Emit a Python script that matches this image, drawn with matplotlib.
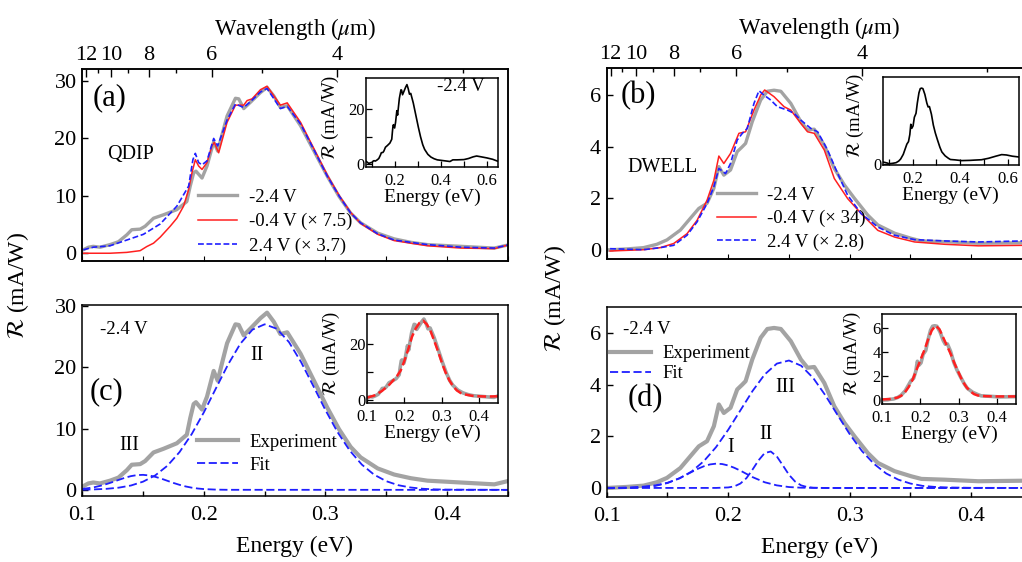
import matplotlib
matplotlib.use('Agg')
import matplotlib.pyplot as plt
from matplotlib.ticker import FixedLocator, NullLocator

plt.rcParams['font.family'] = 'serif'
plt.rcParams['font.serif'] = ['Liberation Serif', 'DejaVu Serif']
plt.rcParams['mathtext.fontset'] = 'stix'
plt.rcParams['xtick.direction'] = 'in'
plt.rcParams['ytick.direction'] = 'in'
plt.rcParams['axes.linewidth'] = 1.1

# ---------------- data ----------------
# QDIP, -2.4 V (full range, used in (a), (c) and insets)
qdip_E = [0.074, 0.080, 0.086, 0.092, 0.1008, 0.105, 0.109, 0.1146, 0.1228, 0.1297, 0.1366, 0.1407,
          0.1476, 0.1517, 0.1586, 0.1668, 0.1778, 0.186, 0.1888, 0.1916, 0.1935, 0.1985, 0.2026, 0.2081,
          0.2114, 0.215, 0.2191, 0.226, 0.2287, 0.2328, 0.2383, 0.2466, 0.252, 0.2576, 0.263, 0.2686,
          0.2796, 0.2906, 0.3016, 0.3112, 0.3208, 0.329, 0.343, 0.3566, 0.3703, 0.384, 0.4116, 0.439,
          0.4515, 0.47, 0.50, 0.52, 0.54, 0.555, 0.575, 0.60, 0.625, 0.65]
qdip_m24 = [1.0, 0.6, 0.2, 0.4, 0.6, 1.05, 1.2, 1.05, 1.5, 2.0, 3.2, 4.1,
            4.2, 4.7, 6.1, 6.7, 7.6, 9.0, 11.7, 14.0, 14.3, 13.1, 15.2, 19.4,
            17.8, 20.7, 23.9, 27.0, 26.9, 25.2, 26.3, 28.0, 28.9, 27.4, 25.4, 25.7,
            22.2, 17.8, 13.4, 9.9, 7.0, 5.3, 3.5, 2.5, 1.9, 1.5, 1.2, 0.9,
            1.5, 1.5, 1.6, 2.0, 2.6, 2.9, 2.6, 2.2, 1.7, 0.9]

# QDIP, -0.4 V (x7.5)
qdip_E_m04 = [0.1008, 0.1228, 0.1366, 0.1476, 0.1531, 0.1586, 0.1641, 0.1723, 0.1778, 0.1833, 0.1875,
              0.1902, 0.193, 0.1957, 0.1985, 0.2026, 0.2067, 0.2086, 0.2122, 0.2191, 0.226, 0.2328,
              0.2356, 0.2397, 0.2466, 0.252, 0.263, 0.2686, 0.2796, 0.2906, 0.3016, 0.3112, 0.3208,
              0.329, 0.343, 0.3566, 0.384, 0.4116, 0.439, 0.4515]
qdip_m04 = [0.0, 0.0, 0.15, 0.45, 1.17, 1.75, 2.8, 4.7, 6.1, 8.2, 11.1,
            14.0, 16.3, 15.2, 14.6, 15.8, 18.7, 19.3, 17.5, 22.8, 25.8, 25.8,
            26.6, 26.9, 28.5, 29.1, 25.8, 26.2, 22.8, 18.2, 13.6, 10.1, 7.1,
            5.2, 3.3, 2.2, 1.3, 0.9, 0.8, 1.5]

# QDIP, +2.4 V (x3.7)
qdip_E_p24 = [0.1008, 0.109, 0.1228, 0.1366, 0.1503, 0.1641, 0.1778, 0.1875, 0.191, 0.193, 0.1957,
              0.1985, 0.2026, 0.2081, 0.2114, 0.2191, 0.226, 0.2328, 0.2383, 0.2466, 0.252, 0.263,
              0.2686, 0.2796, 0.2906, 0.3016, 0.3112, 0.3208, 0.329, 0.343, 0.3566, 0.384, 0.4116,
              0.439, 0.4515]
qdip_p24 = [0.6, 1.05, 1.3, 2.3, 3.3, 5.1, 8.2, 11.7, 16.3, 17.4, 15.8,
            15.4, 16.1, 20.0, 18.7, 23.2, 26.0, 25.4, 26.4, 28.1, 28.7, 25.2,
            25.6, 22.5, 18.0, 13.4, 10.0, 7.0, 5.3, 3.4, 2.3, 1.5, 1.05,
            0.9, 1.5]

# DWELL, -2.4 V (full range)
dwell_E = [0.074, 0.085, 0.095, 0.1, 0.1165, 0.1303, 0.1413, 0.1496, 0.1606, 0.1689, 0.1758, 0.1826,
           0.1882, 0.1923, 0.1964, 0.2019, 0.2074, 0.2116, 0.2143, 0.2198, 0.2267, 0.2322, 0.2377,
           0.2433, 0.2515, 0.2598, 0.2653, 0.2708, 0.2791, 0.2873, 0.2956, 0.3039, 0.3149, 0.3231,
           0.3369, 0.3507, 0.359, 0.3782, 0.4058, 0.443, 0.46, 0.49, 0.52, 0.55, 0.575, 0.595, 0.62, 0.65]
dwell_m24 = [0.15, 0.1, 0.05, 0.0, 0.04, 0.09, 0.22, 0.39, 0.77, 1.23, 1.61, 1.81,
             2.39, 3.23, 2.90, 3.10, 3.81, 4.0, 4.13, 4.97, 5.81, 6.15, 6.19,
             6.15, 5.68, 4.97, 4.65, 4.68, 4.06, 3.16, 2.52, 2.0, 1.35, 0.97,
             0.65, 0.45, 0.35, 0.32, 0.26, 0.28, 0.3, 0.33, 0.45, 0.62, 0.75, 0.72, 0.62, 0.55]

# DWELL, -0.4 V (x34)
dwell_E_m04 = [0.1028, 0.1303, 0.1441, 0.1551, 0.1661, 0.1744, 0.1826, 0.1882, 0.1923, 0.1964, 0.2019,
               0.2088, 0.2143, 0.2212, 0.2267, 0.23, 0.2377, 0.246, 0.2515, 0.2598, 0.2653, 0.2708,
               0.2791, 0.2873, 0.2983, 0.3094, 0.3231, 0.3369, 0.3534, 0.3782, 0.4058, 0.443, 0.452]
dwell_m04 = [-0.04, 0.01, 0.09, 0.25, 0.63, 1.15, 1.93, 2.70, 3.64, 3.35, 3.74,
             4.52, 4.58, 5.42, 6.0, 6.2, 5.94, 5.55, 5.42, 4.90, 4.58, 4.52,
             3.87, 2.77, 1.99, 1.41, 0.76, 0.50, 0.31, 0.22, 0.16, 0.18, 0.18]

# DWELL, +2.4 V (x2.8)
dwell_E_p24 = [0.1028, 0.1303, 0.1441, 0.1551, 0.1661, 0.1744, 0.1826, 0.1882, 0.1923, 0.1978, 0.2019,
               0.2074, 0.2116, 0.2157, 0.2212, 0.2253, 0.2295, 0.235, 0.2405, 0.2488, 0.2543, 0.2598,
               0.268, 0.2736, 0.2818, 0.2901, 0.2983, 0.3094, 0.3231, 0.3369, 0.3534, 0.3782, 0.4058,
               0.443, 0.452]
dwell_p24 = [0.05, 0.01, 0.09, 0.18, 0.57, 1.09, 1.80, 2.45, 3.16, 2.96, 3.35,
             4.26, 4.52, 4.71, 5.68, 6.17, 6.0, 5.81, 5.55, 5.42, 5.29, 5.03,
             4.71, 4.58, 3.87, 2.96, 2.12, 1.41, 0.89, 0.57, 0.40, 0.35, 0.31,
             0.35, 0.35]

# Fits, panel (c)
fitc_E_II = [0.10, 0.11, 0.12, 0.13, 0.14, 0.15, 0.16, 0.17, 0.18, 0.19, 0.20, 0.21, 0.22, 0.23, 0.24,
             0.25, 0.26, 0.27, 0.28, 0.29, 0.30, 0.31, 0.32, 0.33, 0.34, 0.35, 0.36, 0.37, 0.38, 0.39,
             0.40, 0.45]
fitc_II = [0.03, 0.08, 0.17, 0.36, 0.71, 1.34, 2.36, 3.93, 6.16, 9.09, 12.64, 16.58, 20.47, 23.83, 26.13,
           27.0, 26.28, 24.11, 20.84, 16.97, 13.03, 9.42, 6.42, 4.12, 2.49, 1.42, 0.76, 0.39, 0.18, 0.08,
           0.04, 0.0]
fitc_E_III = [0.10, 0.105, 0.11, 0.115, 0.12, 0.125, 0.13, 0.135, 0.14, 0.145, 0.15, 0.155, 0.16, 0.165,
              0.17, 0.175, 0.18, 0.185, 0.19, 0.195, 0.20, 0.21, 0.22, 0.45]
fitc_III = [0.16, 0.28, 0.44, 0.67, 0.95, 1.28, 1.63, 1.97, 2.24, 2.41, 2.45, 2.35, 2.13, 1.83,
            1.48, 1.13, 0.82, 0.56, 0.36, 0.22, 0.13, 0.04, 0.01, 0.0]
fitc_E_tot = [0.10, 0.12, 0.14, 0.16, 0.18, 0.19, 0.20, 0.21, 0.22, 0.23, 0.24, 0.25, 0.26, 0.27, 0.28,
              0.29, 0.30, 0.31, 0.32, 0.33, 0.34, 0.35, 0.36, 0.38, 0.40, 0.42, 0.45]
fitc_tot = [0.8, 1.6, 3.2, 5.5, 8.5, 10.5, 14.0, 18.0, 22.5, 25.5, 27.5, 28.3, 27.0, 24.5, 21.0,
            17.3, 13.3, 9.8, 7.0, 4.9, 3.4, 2.5, 2.0, 1.5, 1.3, 1.2, 1.3]

# Fits, panel (d)
fitd_E_I = [0.10, 0.11, 0.12, 0.13, 0.14, 0.15, 0.16, 0.17, 0.175, 0.18, 0.185, 0.19, 0.195, 0.20,
            0.205, 0.21, 0.22, 0.23, 0.24, 0.25, 0.26, 0.27, 0.28, 0.45]
fitd_I = [0.0, 0.002, 0.008, 0.03, 0.08, 0.19, 0.38, 0.62, 0.74, 0.84, 0.91, 0.94, 0.925, 0.87,
          0.78, 0.67, 0.42, 0.22, 0.10, 0.035, 0.01, 0.003, 0.0, 0.0]
fitd_E_II = [0.10, 0.19, 0.20, 0.205, 0.21, 0.215, 0.22, 0.225, 0.23, 0.235, 0.24, 0.245, 0.25, 0.255,
             0.26, 0.265, 0.27, 0.28, 0.45]
fitd_II = [0.0, 0.001, 0.02, 0.06, 0.17, 0.38, 0.71, 1.07, 1.35, 1.41, 1.22, 0.87, 0.51, 0.25,
           0.10, 0.034, 0.01, 0.0, 0.0]
fitd_E_III = [0.10, 0.11, 0.12, 0.13, 0.14, 0.15, 0.16, 0.17, 0.18, 0.19, 0.20, 0.21, 0.22, 0.23, 0.24,
              0.25, 0.26, 0.27, 0.28, 0.29, 0.30, 0.31, 0.32, 0.33, 0.34, 0.35, 0.36, 0.37, 0.38, 0.40,
              0.45]
fitd_III = [0.003, 0.009, 0.02, 0.05, 0.10, 0.20, 0.37, 0.64, 1.04, 1.58, 2.25, 3.00, 3.75, 4.39, 4.81,
            4.93, 4.73, 4.25, 3.58, 2.82, 2.08, 1.43, 0.93, 0.56, 0.32, 0.17, 0.08, 0.04, 0.02, 0.005,
            0.0]
fitd_E_tot = [0.10, 0.12, 0.14, 0.15, 0.16, 0.17, 0.18, 0.19, 0.20, 0.21, 0.22, 0.23, 0.24, 0.25, 0.26,
              0.27, 0.28, 0.29, 0.30, 0.31, 0.32, 0.33, 0.34, 0.35, 0.37, 0.40, 0.45]
fitd_tot = [0.05, 0.08, 0.2, 0.35, 0.65, 1.1, 1.7, 2.5, 3.3, 4.1, 5.0, 5.8, 6.2, 5.9, 5.2,
            4.5, 3.8, 3.0, 2.3, 1.6, 1.1, 0.75, 0.5, 0.38, 0.32, 0.3, 0.3]

# wavelength axis (um)
wl_major = [12, 10, 8, 6, 4]
wl_minor = [11, 9, 7, 5, 3]
HC = 1.23984  # eV*um

GRAY = '#a3a3a3'
RED = '#ff2020'
BLUE = '#1f1fff'

W, H = 1022, 562
fig = plt.figure(figsize=(W / 100, H / 100), dpi=100)


def px_axes(l, t, r, b):
    return fig.add_axes([l / W, 1 - b / H, (r - l) / W, (b - t) / H])


def style_main(ax, bottom_labels):
    ax.tick_params(axis='y', which='major', length=4.5, width=1, labelsize=16, pad=4)
    ax.tick_params(axis='y', right=False)
    if bottom_labels:
        ax.tick_params(axis='x', which='both', length=3.5, width=1, labelsize=16, pad=7, top=False)
    else:
        ax.tick_params(axis='x', which='both', bottom=False, labelbottom=False, top=False)


def add_top_axis(ax):
    at = ax.twiny()
    at.set_xlim(ax.get_xlim())
    at.xaxis.set_major_locator(FixedLocator([HC / w for w in wl_major]))
    at.xaxis.set_minor_locator(FixedLocator([HC / w for w in wl_minor]))
    at.set_xticklabels([str(w) for w in wl_major])
    at.tick_params(axis='x', which='major', length=5.5, width=1, labelsize=16, pad=3)
    at.tick_params(axis='x', which='minor', length=3.2, width=1)
    at.set_xlabel(r'Wavelength ($\mu$m)', fontsize=16.5, labelpad=8)
    return at


def style_inset(ax):
    ax.set_facecolor('white')
    ax.tick_params(axis='both', which='both', labelsize=12, width=0.9)
    ax.tick_params(axis='both', which='major', length=4)
    ax.tick_params(axis='both', which='minor', length=4)
    ax.tick_params(axis='y', pad=1)
    ax.tick_params(axis='x', pad=4)
    ax.set_xlabel('Energy (eV)', fontsize=14, labelpad=0)
    ax.set_ylabel(r'$\mathcal{R}$ (mA/W)', fontsize=13.5, labelpad=0)
    ax.yaxis.set_label_coords(-0.19, 0.56)


# ---------------- panel (a) ----------------
ax_a = px_axes(82.3, 69, 507.7, 260.7)
ax_a.plot(qdip_E, qdip_m24, color=GRAY, lw=2.4, label='-2.4 V')
ax_a.plot(qdip_E_m04, qdip_m04, color=RED, lw=1.1, label='-0.4 V (× 7.5)')
ax_a.plot(qdip_E_p24, qdip_p24, color=BLUE, lw=1.2, dashes=(3.5, 1.6), label='2.4 V (× 3.7)')
ax_a.set_xlim(0.1, 0.45)
ax_a.set_ylim(-1.3, 32.1)
ax_a.set_yticks([0, 10, 20, 30])
style_main(ax_a, False)
add_top_axis(ax_a)
ax_a.text(0.065, 0.85, '(a)', transform=ax_a.transAxes, fontsize=22, ha='center', va='center')
ax_a.text(0.058, 0.555, 'QDIP', transform=ax_a.transAxes, fontsize=14.5, ha='left', va='center')
ax_a.legend(loc='upper left', bbox_to_anchor=(0.272, 0.375), frameon=False, fontsize=13.5,
            handlelength=2.1, handletextpad=0.6, labelspacing=0.38, borderpad=0, borderaxespad=0)

# ---------------- panel (b) ----------------
ax_b = px_axes(606.7, 68.3, 1032, 259)
ax_b.plot(dwell_E, dwell_m24, color=GRAY, lw=2.4, label='-2.4 V')
ax_b.plot(dwell_E_m04, dwell_m04, color=RED, lw=1.1, label='-0.4 V (× 34)')
ax_b.plot(dwell_E_p24, dwell_p24, color=BLUE, lw=1.2, dashes=(3.5, 1.6), label='2.4 V (× 2.8)')
ax_b.set_xlim(0.1, 0.45)
ax_b.set_ylim(-0.35, 7.04)
ax_b.set_yticks([0, 2, 4, 6])
style_main(ax_b, False)
add_top_axis(ax_b)
ax_b.text(0.074, 0.855, '(b)', transform=ax_b.transAxes, fontsize=22, ha='center', va='center')
ax_b.text(0.048, 0.48, 'DWELL', transform=ax_b.transAxes, fontsize=14.5, ha='left', va='center')
ax_b.legend(loc='upper left', bbox_to_anchor=(0.259, 0.38), frameon=False, fontsize=13.5,
            handlelength=2.1, handletextpad=0.6, labelspacing=0.33, borderpad=0, borderaxespad=0)

# ---------------- panel (c) ----------------
ax_c = px_axes(82.3, 305, 507.7, 496)
ax_c.plot(qdip_E, qdip_m24, color=GRAY, lw=3.0, label='Experiment')
ax_c.plot(fitc_E_II, fitc_II, color=BLUE, lw=1.3, dashes=(4.5, 2.0), label='Fit')
ax_c.plot(fitc_E_III, fitc_III, color=BLUE, lw=1.3, dashes=(4.5, 2.0))
ax_c.set_xlim(0.1, 0.45)
ax_c.set_ylim(-1.0, 30.15)
ax_c.set_yticks([0, 10, 20, 30])
ax_c.set_xticks([0.1, 0.2, 0.3, 0.4])
ax_c.xaxis.set_minor_locator(FixedLocator([0.15, 0.25, 0.35, 0.45]))
style_main(ax_c, True)
ax_c.set_xlabel('Energy (eV)', fontsize=17, labelpad=8)
ax_c.text(0.058, 0.545, '(c)', transform=ax_c.transAxes, fontsize=22, ha='center', va='center')
ax_c.text(0.042, 0.87, '-2.4 V', transform=ax_c.transAxes, fontsize=13.5, ha='left', va='center')
ax_c.text(0.244, 21.9, 'II', fontsize=14.5, ha='center', va='center')
ax_c.text(0.139, 7.2, 'III', fontsize=14.5, ha='center', va='center')
ax_c.legend(loc='upper left', bbox_to_anchor=(0.27, 0.325), frameon=False, fontsize=13.5,
            handlelength=2.2, handletextpad=0.6, labelspacing=0.3, borderpad=0, borderaxespad=0)

# ---------------- panel (d) ----------------
ax_d = px_axes(606.7, 307, 1032, 497)
ax_d.plot(dwell_E, dwell_m24, color=GRAY, lw=3.0, label='Experiment')
ax_d.plot(fitd_E_III, fitd_III, color=BLUE, lw=1.3, dashes=(4.5, 2.0), label='Fit')
ax_d.plot(fitd_E_I, fitd_I, color=BLUE, lw=1.3, dashes=(4.5, 2.0))
ax_d.plot(fitd_E_II, fitd_II, color=BLUE, lw=1.3, dashes=(4.5, 2.0))
ax_d.set_xlim(0.1, 0.45)
ax_d.set_ylim(-0.35, 7.0)
ax_d.set_yticks([0, 2, 4, 6])
ax_d.set_xticks([0.1, 0.2, 0.3, 0.4])
ax_d.xaxis.set_minor_locator(FixedLocator([0.15, 0.25, 0.35, 0.45]))
style_main(ax_d, True)
ax_d.set_xlabel('Energy (eV)', fontsize=17, labelpad=8)
ax_d.text(0.09, 0.52, '(d)', transform=ax_d.transAxes, fontsize=22, ha='center', va='center')
ax_d.text(0.038, 0.88, '-2.4 V', transform=ax_d.transAxes, fontsize=13.5, ha='left', va='center')
ax_d.text(0.2019, 1.55, 'I', fontsize=14.5, ha='center', va='center')
ax_d.text(0.2309, 2.05, 'II', fontsize=14.5, ha='center', va='center')
ax_d.text(0.2473, 3.9, 'III', fontsize=14.5, ha='center', va='center')
ax_d.legend(loc='upper left', bbox_to_anchor=(0.008, 0.80), frameon=False, fontsize=13.5,
            handlelength=2.2, handletextpad=0.6, labelspacing=0.15, borderpad=0, borderaxespad=0)

# ---------------- insets ----------------
ia = px_axes(366, 78, 498, 167)
ia.plot(qdip_E, qdip_m24, color='black', lw=1.2)
ia.set_xlim(0.074, 0.648)
ia.set_ylim(-1.1, 31.3)
ia.set_xticks([0.2, 0.4, 0.6])
ia.xaxis.set_minor_locator(FixedLocator([0.1, 0.3, 0.5]))
ia.set_yticks([0, 20])
ia.yaxis.set_minor_locator(FixedLocator([10]))
style_inset(ia)
ia.text(0.72, 0.9, '-2.4 V', transform=ia.transAxes, fontsize=13.5, ha='center', va='center')

ib = px_axes(882.7, 77, 1019, 165)
ib.plot(dwell_E, dwell_m24, color='black', lw=1.2)
ib.set_xlim(0.074, 0.648)
ib.set_ylim(-0.1, 7.1)
ib.set_xticks([0.2, 0.4, 0.6])
ib.xaxis.set_minor_locator(FixedLocator([0.1, 0.3, 0.5]))
ib.set_yticks([0])
ib.yaxis.set_minor_locator(NullLocator())
style_inset(ib)
ib.yaxis.set_label_coords(-0.12, 0.56)

ic = px_axes(367, 314, 498, 403)
ic.plot(qdip_E, qdip_m24, color=GRAY, lw=2.6)
ic.plot(fitc_E_tot, fitc_tot, color=RED, lw=1.8, dashes=(3.5, 1.5))
ic.set_xlim(0.1, 0.45)
ic.set_ylim(-1.1, 30.7)
ic.set_xticks([0.1, 0.2, 0.3, 0.4])
ic.set_yticks([0, 20])
ic.yaxis.set_minor_locator(FixedLocator([10]))
style_inset(ic)

idd = px_axes(882, 314, 1016, 404)
idd.plot(dwell_E, dwell_m24, color=GRAY, lw=2.6)
idd.plot(fitd_E_tot, fitd_tot, color=RED, lw=1.8, dashes=(3.5, 1.5))
idd.set_xlim(0.1, 0.45)
idd.set_ylim(-0.33, 7.17)
idd.set_xticks([0.1, 0.2, 0.3, 0.4])
idd.set_yticks([0, 2, 4, 6])
style_inset(idd)
idd.yaxis.set_label_coords(-0.14, 0.56)

# shared y labels
fig.text(18 / W, 1 - 285 / H, r'$\mathcal{R}$ (mA/W)', rotation=90, fontsize=17,
         ha='center', va='center')
fig.text(555 / W, 1 - 298 / H, r'$\mathcal{R}$ (mA/W)', rotation=90, fontsize=17,
         ha='center', va='center')

fig.savefig('out.png', dpi=100)
